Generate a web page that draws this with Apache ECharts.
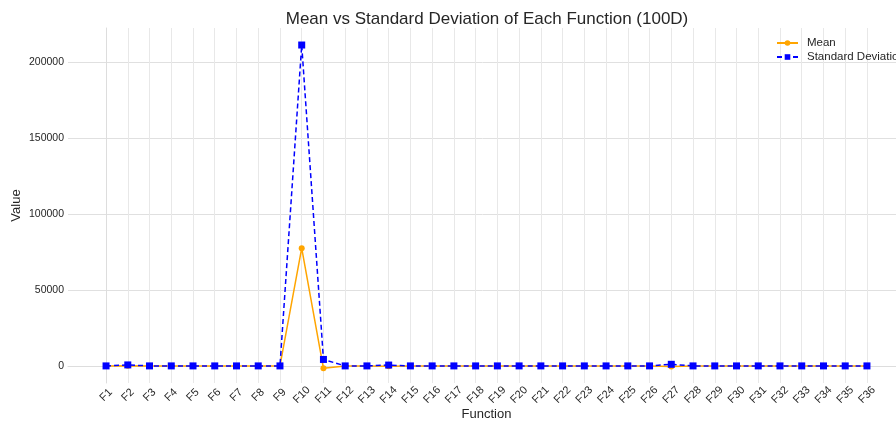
<!DOCTYPE html>
<html>
<head>
<meta charset="utf-8">
<script src="https://cdn.jsdelivr.net/npm/echarts@6/dist/echarts.min.js"></script>
<style>
html, body { margin: 0; padding: 0; background: #fff; }
#chart { width: 896px; height: 423px; }
</style>
</head>
<body>
<div id="chart"></div>
<script>
var categories = [];
for (var i = 1; i <= 36; i++) {
	categories.push('F' + i);
}
// values
var meanValues = [0, 200, 0, 0, 0, 0, 0, 0, 0, 77500, -1500, 0, 0, -200, 0, 0, 0, 0,
	0, 0, 0, 0, 0, 0, 0, 0, -300, 0, 0, 0, 0, 0, 0, 0, 0, 0];
var stdValues = [50, 700, 50, 50, 50, 50, 50, 50, 50, 211200, 4300, 50, 50, 600, 50, 50, 50, 50,
	50, 50, 50, 50, 50, 50, 50, 50, 1100, 50, 50, 50, 50, 50, 50, 50, 50, 50];
var yTicks = [0, 50000, 100000, 150000, 200000];

var font = 'Liberation Sans, Arial, sans-serif';
var xTicks = [];
var meanData = [];
var stdData = [];
for (var i = 0; i < categories.length; i++) {
	xTicks.push(i);
	meanData.push([i, meanValues[i]]);
	stdData.push([i, stdValues[i]]);
}

var chart = echarts.init(document.getElementById('chart'));
var option = {
	animation: false,
	title: {
		text: 'Mean vs Standard Deviation of Each Function (100D)',
		left: 482,
		textAlign: 'center',
		top: 6,
		textStyle: { fontFamily: font, fontSize: 17, fontWeight: 'normal', color: '#262626' }
	},
	legend: {
		orient: 'vertical',
		left: 776,
		top: 37,
		padding: 0,
		itemWidth: 21,
		itemHeight: 7,
		itemGap: 2,
		textStyle: { fontFamily: font, fontSize: 11.5, color: '#262626', padding: [0, 0, 0, 4] },
		data: ['Mean', 'Standard Deviation']
	},
	grid: { left: 68, right: -9, top: 28, bottom: 40, outerBoundsMode: 'none', containLabel: false },
	xAxis: {
		type: 'value',
		min: -1.75,
		max: 36.75,
		name: 'Function',
		nameLocation: 'middle',
		nameGap: 25,
		nameMoveOverlap: false,
		nameTextStyle: { fontFamily: font, fontSize: 13, color: '#262626' },
		axisLine: { show: true, lineStyle: { color: '#dddddd', width: 1 } },
		axisTick: { show: false, customValues: xTicks },
		axisLabel: {
			customValues: xTicks,
			rotate: 45,
			align: 'center',
			verticalAlign: 'middle',
			fontFamily: font,
			fontSize: 11,
			color: '#262626',
			margin: 12,
			formatter: function(v) { return categories[Math.round(v)]; }
		},
		splitLine: { show: true, lineStyle: { color: '#e8e8e8', width: 1 } }
	},
	yAxis: {
		type: 'value',
		min: -11200,
		max: 222400,
		name: 'Value',
		nameLocation: 'middle',
		nameGap: 45,
		nameMoveOverlap: false,
		nameTextStyle: { fontFamily: font, fontSize: 13, color: '#262626' },
		axisLine: { show: true, lineStyle: { color: '#dddddd', width: 1 } },
		axisTick: { show: false, customValues: yTicks },
		axisLabel: {
			customValues: yTicks,
			fontFamily: font,
			fontSize: 10.5,
			color: '#262626',
			margin: 4,
			formatter: function(v) { return String(v); }
		},
		splitLine: { show: true, lineStyle: { color: '#e0e0e0', width: 1 } }
	},
	series: [{
		name: 'Mean',
		type: 'line',
		data: meanData,
		symbol: 'circle',
		symbolSize: 6,
		itemStyle: { color: '#FFA500' },
		lineStyle: { color: '#FFA500', width: 1.5 }
	}, {
		name: 'Standard Deviation',
		type: 'line',
		data: stdData,
		symbol: 'rect',
		symbolSize: 7,
		itemStyle: { color: '#0000FF' },
		lineStyle: { color: '#0000FF', width: 1.5, type: [5, 3] }
	}]
};
chart.setOption(option);
</script>
</body>
</html>
